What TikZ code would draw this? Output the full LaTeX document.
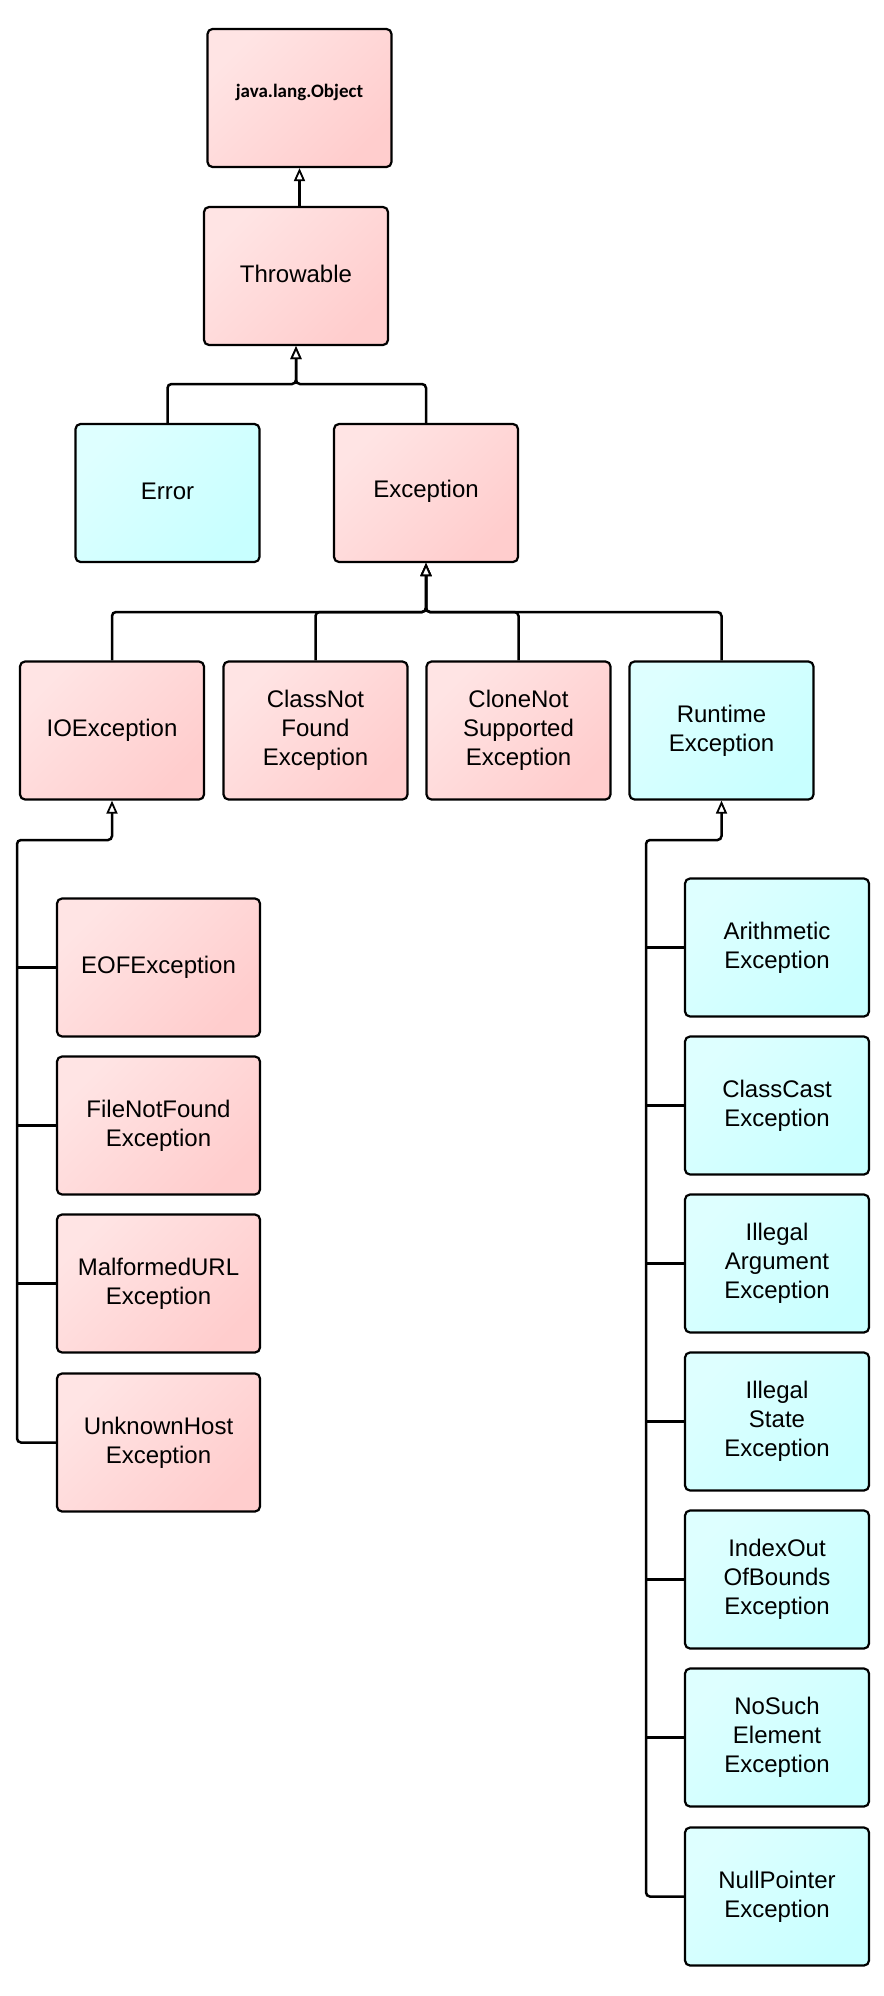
\documentclass[tikz,border=0pt]{standalone}
\usepackage{fontspec}
\setmainfont{Liberation Sans}
\newfontfamily\objfont{Carlito}
\usetikzlibrary{arrows.meta}
\definecolor{pkA}{RGB}{255,228,228}
\definecolor{pkB}{RGB}{255,205,205}
\definecolor{cyA}{RGB}{222,255,255}
\definecolor{cyB}{RGB}{200,255,255}
\tikzset{
  box/.style={draw=black, line width=2.2pt, rounded corners=5pt, minimum width=184pt, minimum height=138pt, align=center, inner sep=2pt, font=\fontsize{24}{29}\selectfont},
  widebox/.style={minimum width=203pt},
  pinkbox/.style={box, top color=pkA, bottom color=pkB, shading angle=45},
  cyanbox/.style={box, top color=cyA, bottom color=cyB, shading angle=45},
  conn/.style={draw=black, line width=2.5pt},
  inh/.style={conn, rounded corners=4pt, -{Triangle[length=13pt,width=11pt,fill=white,line width=1.8pt]}}
}
\begin{document}
\begin{tikzpicture}[x=1pt,y=-1pt]
\useasboundingbox (0,0) rectangle (883,1996);
% top
\node[pinkbox, text height=14pt, text depth=14pt] (obj) at (299.5,98) {\objfont\bfseries\fontsize{19}{23}\selectfont java.lang.Object};
\node[pinkbox, text height=17.5pt, text depth=5pt] (thr) at (296,276) {Throwable};
\node[cyanbox, text height=17.5pt, text depth=5pt] (err) at (167.5,493) {Error};
\node[pinkbox, text height=17.5pt, text depth=9pt] (exc) at (426,493) {Exception};
% row 2
\node[pinkbox] (ioe) at (112,730.5) {IOException};
\node[pinkbox] (cnf) at (315.5,730.5) {ClassNot\\Found\\Exception};
\node[pinkbox] (cns) at (518.5,730.5) {CloneNot\\Supported\\Exception};
\node[cyanbox] (rte) at (721.5,730.5) {Runtime\\Exception};
% left column
\node[pinkbox,widebox] (eof) at (158.5,967.5) {EOFException};
\node[pinkbox,widebox] (fnf) at (158.5,1125.5) {FileNotFound\\Exception};
\node[pinkbox,widebox] (mal) at (158.5,1283.5) {MalformedURL\\Exception};
\node[pinkbox,widebox] (unk) at (158.5,1442.5) {UnknownHost\\Exception};
% right column
\node[cyanbox] (ari) at (777,947.5) {Arithmetic\\Exception};
\node[cyanbox] (ccs) at (777,1105.5) {ClassCast\\Exception};
\node[cyanbox] (iae) at (777,1263.5) {Illegal\\Argument\\Exception};
\node[cyanbox] (ise) at (777,1421.5) {Illegal\\State\\Exception};
\node[cyanbox] (ioob) at (777,1579.5) {IndexOut\\OfBounds\\Exception};
\node[cyanbox] (nse) at (777,1737.5) {NoSuch\\Element\\Exception};
\node[cyanbox] (npe) at (777,1896.5) {NullPointer\\Exception};
% junction coordinates
\coordinate (tbus) at (296,384);
\coordinate (ebus) at (426,612);
\coordinate (lx) at (17,840);
\coordinate (rx) at (646,840);
% connectors
\draw[inh] (thr.north -| obj.south) -- (obj.south);
\draw[inh] (err.north) |- (tbus) -- (thr.south);
\draw[inh] (exc.north) |- (tbus) -- (thr.south);
\draw[inh] (ioe.north) |- (ebus) -- (exc.south);
\draw[inh] (cnf.north) |- (ebus) -- (exc.south);
\draw[inh] (cns.north) |- (ebus) -- (exc.south);
\draw[inh] (rte.north) |- (ebus) -- (exc.south);
\draw[inh] (unk.west) -| (lx) -| (ioe.south);
\draw[conn] (eof.west) -- (eof.west -| lx);
\draw[conn] (fnf.west) -- (fnf.west -| lx);
\draw[conn] (mal.west) -- (mal.west -| lx);
\draw[inh] (npe.west) -| (rx) -| (rte.south);
\draw[conn] (ari.west) -- (ari.west -| rx);
\draw[conn] (ccs.west) -- (ccs.west -| rx);
\draw[conn] (iae.west) -- (iae.west -| rx);
\draw[conn] (ise.west) -- (ise.west -| rx);
\draw[conn] (ioob.west) -- (ioob.west -| rx);
\draw[conn] (nse.west) -- (nse.west -| rx);
\end{tikzpicture}
\end{document}
